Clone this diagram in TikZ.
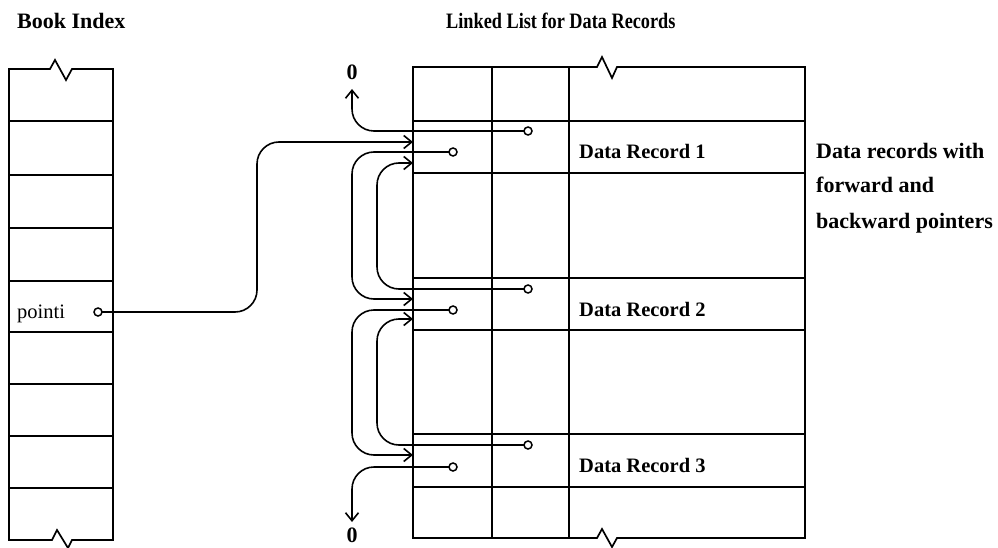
\documentclass[tikz,border=0pt]{standalone}
\usepackage{fontspec}
\setmainfont{Liberation Serif}
\usetikzlibrary{arrows.meta}
\begin{document}
\begin{tikzpicture}[x=1pt,y=-1pt,
  frame/.style={line width=1.7pt, line join=miter},
  rule/.style={line width=1.6pt},
  link/.style={line width=1.6pt, rounded corners=22pt},
  arrowend/.style={-{Straight Barb[length=8pt,width=13pt,line width=1.6pt]}},
  ptr/.style={circle, draw, line width=1.5pt, minimum size=8pt, inner sep=0pt, fill=white},
  lbl/.style={anchor=base west, inner sep=0pt, font=\fontsize{20.5}{24}\selectfont\bfseries},
  note/.style={anchor=base west, inner sep=0pt, font=\fontsize{22}{26}\selectfont\bfseries},
  plain/.style={anchor=base west, inner sep=0pt, font=\fontsize{20.5}{24}\selectfont},
  zero/.style={inner sep=0pt, font=\fontsize{22}{26}\selectfont\bfseries}]
\useasboundingbox (0,0) rectangle (998,548);

% ---- book index column ----
\draw[frame] (9,540) -- (9,69) -- (50,69) -- (55,60) -- (66,80) -- (72,69) -- (113,69)
  -- (113,540) -- (72,540) -- (68,548) -- (57,530) -- (52,540) -- cycle;
\foreach \y in {121,175,228,281,332,384,436,488}
  \draw[rule] (9,\y) -- (113,\y);

% ---- linked list table ----
\draw[frame] (413,538) -- (413,67) -- (597,67) -- (602,57) -- (612,78) -- (617,67) -- (805,67)
  -- (805,538) -- (617,538) -- (612,547) -- (602,529) -- (597,538) -- cycle;
\foreach \y in {121,173,278,330,434,487}
  \draw[rule] (413,\y) -- (805,\y);
\foreach \x in {492,569}
  \draw[rule] (\x,67) -- (\x,538);

% ---- labels ----
\node[note] (booktitle) at (17,29) {Book Index};
\node[note] (listtitle) at (446,29) {\scalebox{0.83}[1]{Linked List for Data Records}};
\node[lbl] (r1) at (579,159) {Data Record 1};
\node[lbl] (r2) at (579,316) {Data Record 2};
\node[lbl] (r3) at (579,472) {Data Record 3};
\node[note] (n1) at (816,159) {Data records with};
\node[note] (n2) at (816,193) {forward and};
\node[note] (n3) at (816,228) {backward pointers};
\node[plain] (pl) at (17,318) {pointi};
\node[zero] (z1) at (352,72) {0};
\node[zero] (z2) at (352,535) {0};

% ---- routing channels and entry points ----
\coordinate (px) at (257,0);
\coordinate (lx) at (352,0);
\coordinate (rx) at (377,0);
\coordinate (in1a) at (413,142);
\coordinate (in1b) at (413,163);
\coordinate (in2a) at (413,299);
\coordinate (in2b) at (413,319);
\coordinate (in3a) at (413,455);
\coordinate (zt1) at (352,89);
\coordinate (zt2) at (352,522);

% ---- pointer origins ----
\coordinate (pdc) at (98,312);
\coordinate (b1c) at (528,131);
\coordinate (f1c) at (453,152);
\coordinate (b2c) at (528,289);
\coordinate (f2c) at (453,310);
\coordinate (b3c) at (528,445);
\coordinate (f3c) at (453,467);

% ---- pointer links ----
\draw[link,arrowend] (pdc) -- (pdc -| px) -- (px |- in1a) -- (in1a);
\draw[link,arrowend] (b1c) -- (b1c -| lx) -- (zt1);
\draw[link,arrowend] (f1c) -- (f1c -| lx) -- (lx |- in2a) -- (in2a);
\draw[link,arrowend] (b2c) -- (b2c -| rx) -- (rx |- in1b) -- (in1b);
\draw[link,arrowend] (f2c) -- (f2c -| lx) -- (lx |- in3a) -- (in3a);
\draw[link,arrowend] (b3c) -- (b3c -| rx) -- (rx |- in2b) -- (in2b);
\draw[link,arrowend] (f3c) -- (f3c -| lx) -- (zt2);

% ---- pointer dots ----
\foreach \p in {pd,b1,f1,b2,f2,b3,f3}
  \node[ptr] (\p) at (\p c) {};
\end{tikzpicture}
\end{document}
